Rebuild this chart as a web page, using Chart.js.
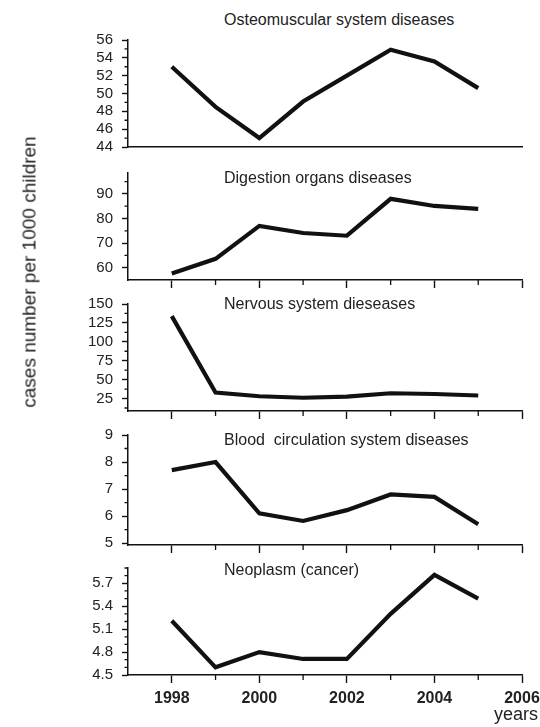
<!DOCTYPE html>
<html>
<head>
<meta charset="utf-8">
<script src="https://cdn.jsdelivr.net/npm/chart.js@4.4.1/dist/chart.umd.min.js"></script>
<style>
  html, body { margin: 0; padding: 0; background: #fff; }
  #page { position: relative; width: 540px; height: 727px; overflow: hidden; font-family: "Liberation Sans", Arial, sans-serif; color: #222; }
  canvas { position: absolute; left: 0; }
  .title { position: absolute; left: 224px; font-size: 16px; line-height: 16px; white-space: pre; z-index: 2; }
  #ylabel { position: absolute; left: 29px; top: 272px; font-size: 19px; line-height: 19px; white-space: nowrap;
            transform: translate(-50%, -50%) rotate(-90deg); z-index: 2; }
  #years { position: absolute; left: 494px; top: 705px; font-size: 18px; line-height: 18px; z-index: 2; }
</style>
</head>
<body>
<div id="page">
  <div id="ylabel">cases number per 1000 children</div>
  <div id="years">years</div>
</div>
<script>
// ---- data ----
const years = [1998, 1999, 2000, 2001, 2002, 2003, 2004, 2005];
const yearTicks = [1998, 2000, 2002, 2004, 2006];
const yearMinor = [1999, 2001, 2003, 2005];

const osteomuscular = [53.0, 48.5, 45.0, 49.1, 52.0, 54.9, 53.6, 50.6];
const digestion = [57.6, 63.6, 77.0, 74.1, 73.0, 88.0, 85.1, 83.9];
const nervous = [134, 33, 28, 26, 27.5, 32, 31, 29];
const blood = [7.7, 8.0, 6.1, 5.82, 6.22, 6.8, 6.71, 5.7];
const neoplasm = [5.21, 4.6, 4.8, 4.71, 4.71, 5.3, 5.81, 5.5];

const osteoTicks = [44, 46, 48, 50, 52, 54, 56];
const osteoMinor = [45, 47, 49, 51, 53, 55];
const digestTicks = [60, 70, 80, 90];
const digestMinor = [65, 75, 85, 95];
const nervousTicks = [25, 50, 75, 100, 125, 150];
const nervousMinor = [12.5, 37.5, 62.5, 87.5, 112.5, 137.5];
const bloodTicks = [5, 6, 7, 8, 9];
const bloodMinor = [5.5, 6.5, 7.5, 8.5];
const neoTicks = [4.5, 4.8, 5.1, 5.4, 5.7];
const neoMinor = [4.6, 4.7, 4.9, 5.0, 5.2, 5.3, 5.5, 5.6, 5.8, 5.9];

// ---- panel layout ----
const PANELS = [
  { title: 'Osteomuscular system diseases', values: osteomuscular, ticks: osteoTicks, minor: osteoMinor,
    min: 44, max: 56, top: 40, bottom: 147, titleTop: 12, xTicks: false, labels: false },
  { title: 'Digestion organs diseases', values: digestion, ticks: digestTicks, minor: digestMinor,
    min: 55, max: 98.5, top: 173, bottom: 280, titleTop: 170, xTicks: true, labels: false },
  { title: 'Nervous system dieseases', values: nervous, ticks: nervousTicks, minor: nervousMinor,
    min: 8.5, max: 150, top: 304, bottom: 411, titleTop: 296, xTicks: true, labels: false },
  { title: 'Blood  circulation system diseases', values: blood, ticks: bloodTicks, minor: bloodMinor,
    min: 4.93, max: 9, top: 435, bottom: 545, titleTop: 432, xTicks: true, labels: false },
  { title: 'Neoplasm (cancer)', values: neoplasm, ticks: neoTicks, minor: neoMinor,
    min: 4.5, max: 5.9, top: 568, bottom: 675, titleTop: 562, xTicks: true, labels: true }
];

const INK = '#111';
const PAD_TOP = 10;

Chart.defaults.font.family = '"Liberation Sans", Arial, sans-serif';
Chart.defaults.color = '#222';

// short minor ticks on both axes, placed through the chart's scales
const minorTicks = {
  id: 'minorTicks',
  afterDraw(chart, args, opts) {
    const { ctx, chartArea } = chart;
    const { x, y } = chart.scales;
    ctx.save();
    ctx.strokeStyle = INK;
    ctx.lineWidth = 1.3;
    ctx.beginPath();
    (opts.y || []).forEach(v => {
      const py = y.getPixelForValue(v);
      ctx.moveTo(chartArea.left - 3.5, py);
      ctx.lineTo(chartArea.left, py);
    });
    (opts.x || []).forEach(v => {
      const px = x.getPixelForValue(v);
      ctx.moveTo(px, chartArea.bottom);
      ctx.lineTo(px, chartArea.bottom + 5);
    });
    ctx.stroke();
    ctx.restore();
  }
};

function makePanel(p) {
  const page = document.getElementById('page');
  const xH = p.labels ? 45 : 10;
  const h = (p.bottom - p.top) + PAD_TOP + xH;

  const canvas = document.createElement('canvas');
  canvas.width = 540;
  canvas.height = h;
  canvas.style.top = (p.top - PAD_TOP) + 'px';
  canvas.style.width = '540px';
  canvas.style.height = h + 'px';
  page.appendChild(canvas);

  const title = document.createElement('div');
  title.className = 'title';
  title.style.top = p.titleTop + 'px';
  title.textContent = p.title;
  page.appendChild(title);

  new Chart(canvas, {
    type: 'line',
    data: {
      datasets: [{
        data: years.map((yr, i) => ({ x: yr, y: p.values[i] })),
        borderColor: INK,
        borderWidth: 4.2,
        borderJoinStyle: 'miter',
        pointRadius: 0,
        tension: 0,
        fill: false
      }]
    },
    options: {
      responsive: false,
      animation: false,
      devicePixelRatio: 1,
      layout: { padding: { top: PAD_TOP, right: 18, left: 0, bottom: 0 } },
      plugins: {
        legend: { display: false },
        tooltip: { enabled: false },
        minorTicks: { y: p.minor, x: p.xTicks ? yearMinor : [] }
      },
      scales: {
        x: {
          type: 'linear',
          min: 1997,
          max: 2006,
          afterBuildTicks: s => { s.ticks = yearTicks.map(v => ({ value: v })); },
          afterFit: s => { s.height = xH; s.paddingLeft = 0; s.paddingRight = 0; },
          border: { display: true, color: INK, width: 1.5 },
          grid: { drawOnChartArea: false, drawTicks: p.xTicks, tickLength: 8, tickColor: INK, tickWidth: 1.4 },
          ticks: {
            display: p.labels,
            autoSkip: false,
            padding: 6,
            maxRotation: 0,
            font: { size: 16, weight: 'bold' },
            color: '#222',
            callback: v => String(v)
          }
        },
        y: {
          min: p.min,
          max: p.max,
          afterBuildTicks: s => { s.ticks = p.ticks.map(v => ({ value: v })); },
          afterFit: s => { s.width = 128; s.paddingTop = 0; s.paddingBottom = 0; },
          border: { display: true, color: INK, width: 1.5 },
          grid: { drawOnChartArea: false, drawTicks: true, tickLength: 6, tickColor: INK, tickWidth: 1.4 },
          ticks: {
            autoSkip: false,
            padding: 9,
            font: { size: 15 },
            color: '#222',
            callback: v => String(v)
          }
        }
      }
    },
    plugins: [minorTicks]
  });
}

PANELS.forEach(makePanel);
</script>
</body>
</html>
